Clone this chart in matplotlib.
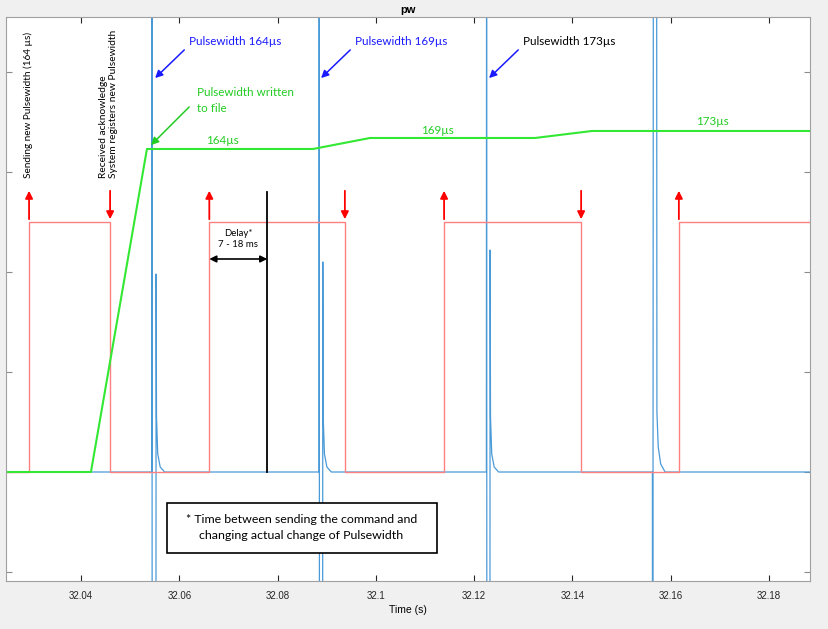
import matplotlib
matplotlib.use('Agg')
import matplotlib.pyplot as plt
from matplotlib.patches import Rectangle

# time axis (s)
t_start, t_end = 32.0247, 32.1883

# red: command / acknowledge signal
red_t = [t_start, 32.0294, 32.0459, 32.0661, 32.0937, 32.1139, 32.1418, 32.1617, t_end]
red_v = [0, 2.5, 0, 2.5, 0, 2.5, 0, 2.5, 2.5]
red_up = [32.0294, 32.0661, 32.1139, 32.1617]
red_down = [32.0459, 32.0937, 32.1418]

# green: pulsewidth written to file
green_t = [t_start, 32.0420, 32.0534, 32.0872, 32.0988, 32.1324, 32.1440, t_end]
green_v = [0, 0, 3.23, 3.23, 3.34, 3.34, 3.41, 3.41]

# blue: measured signal (spikes run past the axes)
blue_t = [t_start,
          32.05437, 32.05441, 32.05449, 32.05520, 32.05527, 32.05535, 32.05560, 32.05610, 32.05700,
          32.08843, 32.08847, 32.08855, 32.08914, 32.08921, 32.08929, 32.08954, 32.09004, 32.09094,
          32.12251, 32.12255, 32.12263, 32.12320, 32.12327, 32.12335, 32.12360, 32.12410, 32.12500,
          32.15631, 32.15637, 32.15651, 32.15717, 32.15723, 32.15750, 32.15800, 32.15890,
          t_end]
blue_v = [0,
          0, 6, -6, -6, 1.98, 0.55, 0.18, 0.05, 0,
          0, 6, -6, -6, 2.10, 0.55, 0.18, 0.05, 0,
          0, 6, -6, -6, 2.22, 0.55, 0.18, 0.05, 0,
          0, -6, 6, 6, 0.6, 0.25, 0.08, 0,
          0]

pulse_t = [32.05466, 32.08845, 32.12265]
pulse_labels = ['Pulsewidth 164\u00b5s', 'Pulsewidth 169\u00b5s', 'Pulsewidth 173\u00b5s']
pulse_label_colors = ['#1a1aff', '#1a1aff', 'black']
level_labels = ['164\u00b5s', '169\u00b5s', '173\u00b5s']
level_label_t = [32.0687, 32.1125, 32.1685]
level_label_y = [3.31, 3.41, 3.50]

delay_start, delay_end = 32.0661, 32.0779

ann_font = 'Lato'

fig = plt.figure(figsize=(8.29, 6.29), dpi=100, facecolor='#f0f0f0')
ax = fig.add_axes([0.0072, 0.0763, 0.9693, 0.8967])

ax.plot(blue_t, blue_v, color='#4a9ad8', lw=0.9)
ax.plot(red_t, red_v, color='#ff8080', lw=1.0, drawstyle='steps-post')
ax.plot(green_t, green_v, color='#33e833', lw=1.5)
ax.plot([delay_end, delay_end], [0, 2.8], color='black', lw=1.3)

for t in red_up:
    ax.annotate('', xy=(t, 2.84), xytext=(t, 2.5),
                arrowprops=dict(arrowstyle='-|>', color='red', lw=1.3, mutation_scale=11))
for t in red_down:
    ax.annotate('', xy=(t, 2.5), xytext=(t, 2.84),
                arrowprops=dict(arrowstyle='-|>', color='red', lw=1.3, mutation_scale=11))

for t, lab, c in zip(pulse_t, pulse_labels, pulse_label_colors):
    ax.annotate('', xy=(t, 3.92), xytext=(t + 0.00675, 4.24),
                arrowprops=dict(arrowstyle='-|>', color='#1a1aff', lw=1.1, mutation_scale=11))
    ax.text(t + 0.00735, 4.30, lab, color=c, fontsize=8.4, family=ann_font, ha='left', va='center')

ax.annotate('', xy=(32.05384, 3.25), xytext=(32.0624, 3.67),
            arrowprops=dict(arrowstyle='-|>', color='#22cc22', lw=1.1, mutation_scale=11))
ax.text(32.0636, 3.715, 'Pulsewidth written\nto file', color='#22cc22', fontsize=8.4,
        family=ann_font, ha='left', va='center', linespacing=1.45)

for t, y, lab in zip(level_label_t, level_label_y, level_labels):
    ax.text(t, y, lab, color='#22cc22', fontsize=8.4, family=ann_font, ha='center', va='center')

ax.text(32.0292, 2.94, 'Sending new Pulsewidth (164 \u00b5s)', rotation=90, fontsize=7.2,
        family=ann_font, ha='center', va='bottom')
ax.text(32.0456, 2.94, 'Received acknowledge\nSystem registers new Pulsewidth', rotation=90,
        fontsize=7.4, family=ann_font, ha='center', va='bottom', multialignment='left',
        linespacing=1.2)

ax.annotate('', xy=(delay_start, 2.13), xytext=(delay_end, 2.13),
            arrowprops=dict(arrowstyle='<|-|>', color='black', lw=1.2, mutation_scale=10,
                            shrinkA=0, shrinkB=0))
ax.text((delay_start + delay_end) / 2, 2.33, 'Delay*\n7 - 18 ms', fontsize=6.9, family=ann_font,
        ha='center', va='center', linespacing=1.4)

ax.add_patch(Rectangle((32.0575, -0.81), 0.0549, 0.504, fc='white', ec='black', lw=1.2, zorder=5))
ax.text(32.0848, -0.555, '* Time between sending the command and\nchanging actual change of Pulsewidth',
        fontsize=8.9, family=ann_font, ha='center', va='center', linespacing=1.55, zorder=6)

ax.set_xlim(t_start, t_end)
ax.set_ylim(-1.09, 4.55)
ax.set_xticks([32.04, 32.06, 32.08, 32.1, 32.12, 32.14, 32.16, 32.18])
ax.set_xticklabels(['32.04', '32.06', '32.08', '32.1', '32.12', '32.14', '32.16', '32.18'],
                   family='Liberation Sans', fontsize=7)
ax.set_yticks([-1, 0, 1, 2, 3, 4])
ax.set_yticklabels([])
ax.tick_params(direction='in', length=4, top=True, right=True, colors='#262626', pad=7)
ax.tick_params(axis='y', colors='#8c8c8c')
for s in ax.spines.values():
    s.set_color('#a0a0a0')
ax.set_xlabel('Time (s)', family='Liberation Sans', fontsize=7.5, labelpad=3)
ax.set_title('pw', fontsize=8, fontweight='bold', family='Liberation Sans', pad=3)

fig.savefig('out.png', dpi=100, facecolor=fig.get_facecolor())
